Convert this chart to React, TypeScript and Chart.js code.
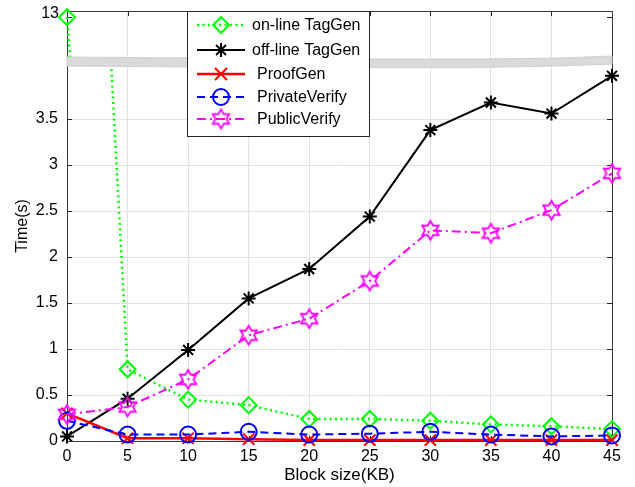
import React, { useEffect, useRef } from 'react';
import { Chart, registerables } from 'chart.js';

Chart.register(...registerables);

// ---- data ----
const blockSizes = [0, 5, 10, 15, 20, 25, 30, 35, 40, 45];
const onlineTagGen = [13, 0.78, 0.45, 0.39, 0.24, 0.24, 0.22, 0.18, 0.16, 0.13];
const offlineTagGen = [0.05, 0.46, 0.99, 1.55, 1.87, 2.44, 3.38, 3.68, 3.56, 3.97];
const proofGen = [0.3, 0.03, 0.03, 0.02, 0.01, 0.01, 0.01, 0.01, 0.01, 0.01];
const privateVerify = [0.22, 0.07, 0.07, 0.1, 0.07, 0.08, 0.1, 0.07, 0.05, 0.06];
const publicVerify = [0.29, 0.37, 0.67, 1.15, 1.33, 1.74, 2.29, 2.26, 2.51, 2.91];
const seriesNames = ['on-line TagGen', 'off-line TagGen', 'ProofGen', 'PrivateVerify', 'PublicVerify'];
const xTickValues = [0, 5, 10, 15, 20, 25, 30, 35, 40, 45];
const yTickValues = [0, 0.5, 1, 1.5, 2, 2.5, 3, 3.5];
const upperTickValues = [13];
const xTitle = 'Block size(KB)';
const yTitle = 'Time(s)';

// axis ranges (lower part and upper part of the broken axis)
const lowerMin = 0;
const lowerMax = 4.675;
const upperMin = 6.16;
const upperMax = 13.1;
const breakValue = 4.12; // value on the lower axis where the break band sits

const FONT = "'Liberation Sans', Arial, Helvetica, sans-serif";
const GREEN = '#00ff00';
const BLACK = '#000000';
const RED = '#ff0000';
const BLUE = '#0000ff';
const MAGENTA = '#ff00ff';

function makeHexagram(color: string, r: number): HTMLCanvasElement {
  const c = document.createElement('canvas');
  const s = Math.ceil(r * 2 + 4);
  c.width = s;
  c.height = s;
  const g = c.getContext('2d')!;
  g.strokeStyle = color;
  g.lineWidth = 1.8;
  g.beginPath();
  for (let i = 0; i < 12; i++) {
    const ang = -Math.PI / 2 + (i * Math.PI) / 6;
    const rr = i % 2 === 0 ? r : r * 0.577;
    const px = s / 2 + rr * Math.cos(ang);
    const py = s / 2 + rr * Math.sin(ang);
    if (i === 0) g.moveTo(px, py);
    else g.lineTo(px, py);
  }
  g.closePath();
  g.stroke();
  return c;
}

function drawMarker(ctx: CanvasRenderingContext2D, kind: string, x: number, y: number, color: string, img?: HTMLCanvasElement) {
  ctx.save();
  ctx.setLineDash([]);
  ctx.strokeStyle = color;
  ctx.lineWidth = 2;
  ctx.beginPath();
  if (kind === 'diamond') {
    const r = 8;
    ctx.moveTo(x, y - r);
    ctx.lineTo(x + r, y);
    ctx.lineTo(x, y + r);
    ctx.lineTo(x - r, y);
    ctx.closePath();
  } else if (kind === 'star') {
    const r = 7;
    for (let i = 0; i < 4; i++) {
      const a = (i * Math.PI) / 4;
      ctx.moveTo(x - r * Math.cos(a), y - r * Math.sin(a));
      ctx.lineTo(x + r * Math.cos(a), y + r * Math.sin(a));
    }
  } else if (kind === 'cross') {
    const r = 6;
    ctx.moveTo(x - r, y - r);
    ctx.lineTo(x + r, y + r);
    ctx.moveTo(x + r, y - r);
    ctx.lineTo(x - r, y + r);
  } else if (kind === 'circle') {
    ctx.arc(x, y, 8, 0, Math.PI * 2);
  }
  ctx.stroke();
  if (kind === 'hex' && img) {
    ctx.drawImage(img, x - img.width / 2, y - img.height / 2);
  }
  ctx.restore();
}

export default function App() {
  const ref = useRef<HTMLCanvasElement>(null);

  useEffect(() => {
    const canvas = ref.current;
    if (!canvas) return;
    const hex = makeHexagram(MAGENTA, 9.5);

    const pts = (arr: number[]) => blockSizes.map((x, i) => ({ x, y: arr[i] }));
    const base = {
      showLine: true,
      clip: false as any,
      fill: false,
      tension: 0,
      backgroundColor: 'rgba(0,0,0,0)',
      pointBackgroundColor: 'rgba(0,0,0,0)',
      pointBorderWidth: 2,
      pointHoverRadius: 0,
    };

    const legendDefs = [
      { name: seriesNames[0], color: GREEN, dash: [2, 3.5], width: 2.5, marker: 'diamond' },
      { name: seriesNames[1], color: BLACK, dash: [], width: 2, marker: 'star' },
      { name: seriesNames[2], color: RED, dash: [], width: 2.5, marker: 'cross' },
      { name: seriesNames[3], color: BLUE, dash: [8, 5], width: 2, marker: 'circle' },
      { name: seriesNames[4], color: MAGENTA, dash: [9, 4, 2, 4], width: 2, marker: 'hex' },
    ];

    const datasets: any[] = [
      {
        ...base, label: seriesNames[0], data: pts(onlineTagGen), yAxisID: 'y', region: 'lower', order: 5,
        borderColor: GREEN, borderWidth: 2.5, borderDash: [2, 3.5], pointStyle: 'rectRot', pointRadius: 8, pointBorderColor: GREEN,
      },
      {
        ...base, label: seriesNames[0] + ' (upper)', data: pts(onlineTagGen), yAxisID: 'yTop', region: 'upper', order: 5,
        borderColor: GREEN, borderWidth: 2.5, borderDash: [2, 3.5], pointStyle: 'rectRot', pointRadius: 8, pointBorderColor: GREEN,
      },
      {
        ...base, label: seriesNames[1], data: pts(offlineTagGen), yAxisID: 'y', region: 'lower', order: 4,
        borderColor: BLACK, borderWidth: 2, pointStyle: 'star', pointRadius: 7, pointBorderColor: BLACK,
      },
      {
        ...base, label: seriesNames[2], data: pts(proofGen), yAxisID: 'y', region: 'lower', order: 3,
        borderColor: RED, borderWidth: 2.5, pointStyle: 'crossRot', pointRadius: 8, pointBorderColor: RED,
      },
      {
        ...base, label: seriesNames[3], data: pts(privateVerify), yAxisID: 'y', region: 'lower', order: 2,
        borderColor: BLUE, borderWidth: 2, borderDash: [8, 5], pointStyle: 'circle', pointRadius: 8, pointBorderColor: BLUE,
      },
      {
        ...base, label: seriesNames[4], data: pts(publicVerify), yAxisID: 'y', region: 'lower', order: 1,
        borderColor: MAGENTA, borderWidth: 2, borderDash: [9, 4, 2, 4], pointStyle: hex, pointRadius: 9, pointBorderColor: MAGENTA,
      },
    ];

    const splitPixel = (chart: any) => chart.scales.y.getPixelForValue(breakValue);

    const decor = {
      id: 'decor',
      beforeDatasetsDraw(chart: any) {
        const { ctx, chartArea: a, scales } = chart;
        ctx.save();
        // inward tick marks
        ctx.strokeStyle = '#262626';
        ctx.lineWidth = 1;
        ctx.beginPath();
        const tl = 5;
        for (const v of xTickValues) {
          const px = Math.round(scales.x.getPixelForValue(v)) + 0.5;
          ctx.moveTo(px, a.bottom);
          ctx.lineTo(px, a.bottom - tl);
          ctx.moveTo(px, a.top);
          ctx.lineTo(px, a.top + tl);
        }
        const yPix = yTickValues.map((v) => scales.y.getPixelForValue(v))
          .concat(upperTickValues.map((v) => scales.yTop.getPixelForValue(v)));
        for (const p of yPix) {
          const py = Math.round(p) + 0.5;
          ctx.moveTo(a.left, py);
          ctx.lineTo(a.left + tl, py);
          ctx.moveTo(a.right, py);
          ctx.lineTo(a.right - tl, py);
        }
        ctx.stroke();
        // frame
        ctx.strokeStyle = '#3a3a3a';
        ctx.strokeRect(Math.round(a.left) + 0.5, Math.round(a.top) + 0.5, Math.round(a.right - a.left), Math.round(a.bottom - a.top));
        ctx.restore();
      },
      beforeDatasetDraw(chart: any, args: any) {
        const ds = chart.data.datasets[args.index];
        const { ctx } = chart;
        const sp = splitPixel(chart);
        ctx.save();
        ctx.beginPath();
        if (ds.region === 'upper') ctx.rect(0, 0, chart.width, sp);
        else ctx.rect(0, sp, chart.width, chart.height - sp);
        ctx.clip();
      },
      afterDatasetDraw(chart: any) {
        chart.ctx.restore();
      },
      afterDatasetsDraw(chart: any) {
        const { ctx, chartArea: a, scales } = chart;
        const sp = splitPixel(chart);
        const w = a.right - a.left;
        // break band (slightly wavy)
        const topOff = [[0, -5], [0.25, -4], [0.5, -3], [0.75, -3], [0.9, -4], [1, -6]];
        const botOff = [[1, 2], [0.9, 4], [0.75, 5.5], [0.5, 5.5], [0.25, 5], [0, 4]];
        ctx.save();
        ctx.fillStyle = '#dadada';
        ctx.strokeStyle = '#cfcfcf';
        ctx.lineWidth = 1;
        ctx.beginPath();
        topOff.forEach(([f, o], i) => {
          const px = a.left + f * w;
          if (i === 0) ctx.moveTo(px, sp + o);
          else ctx.lineTo(px, sp + o);
        });
        botOff.forEach(([f, o]) => ctx.lineTo(a.left + f * w, sp + o));
        ctx.closePath();
        ctx.fill();
        ctx.stroke();
        ctx.restore();

        // upper tick label
        ctx.save();
        ctx.fillStyle = '#000';
        ctx.font = `16px ${FONT}`;
        ctx.textAlign = 'right';
        ctx.textBaseline = 'middle';
        for (const v of upperTickValues) {
          ctx.fillText(String(v), a.left - 8, scales.yTop.getPixelForValue(v) - 4);
        }
        // axis titles
        ctx.textAlign = 'center';
        ctx.font = `17px ${FONT}`;
        ctx.fillText(xTitle, (a.left + a.right) / 2, a.bottom + 34);
        ctx.font = `16px ${FONT}`;
        ctx.translate(23, (a.top + a.bottom) / 2);
        ctx.rotate(-Math.PI / 2);
        ctx.fillText(yTitle, 0, 0);
        ctx.restore();
      },
      afterDraw(chart: any) {
        const { ctx, chartArea: a } = chart;
        // legend box
        const bx = 187, by = a.top, bw = 182, bh = 125;
        ctx.save();
        ctx.fillStyle = '#ffffff';
        ctx.fillRect(bx, by, bw, bh);
        ctx.strokeStyle = '#262626';
        ctx.lineWidth = 1;
        ctx.strokeRect(bx + 0.5, by + 0.5, bw, bh);
        const rowY = [25, 50, 74, 97, 119];
        const textX = [252, 252, 257, 257, 257];
        legendDefs.forEach((d, i) => {
          const y = rowY[i];
          ctx.save();
          ctx.strokeStyle = d.color;
          ctx.lineWidth = d.width;
          ctx.setLineDash(d.dash);
          ctx.beginPath();
          ctx.moveTo(197, y);
          ctx.lineTo(245, y);
          ctx.stroke();
          ctx.restore();
          drawMarker(ctx, d.marker, 221, y, d.color, hex);
          ctx.fillStyle = '#000';
          ctx.font = `16px ${FONT}`;
          ctx.textAlign = 'left';
          ctx.textBaseline = 'middle';
          ctx.fillText(d.name, textX[i], y + 1);
        });
        ctx.restore();
      },
    };

    const tickFont = { size: 16, family: FONT };
    const chart = new Chart(canvas, {
      type: 'line',
      data: { datasets },
      options: {
        animation: false,
        responsive: false,
        maintainAspectRatio: false,
        events: [],
        layout: { padding: { top: 10, right: 23, left: 0, bottom: 0 } },
        plugins: { legend: { display: false }, tooltip: { enabled: false } },
        scales: {
          x: {
            type: 'linear',
            min: 0,
            max: 45,
            afterBuildTicks: (s: any) => { s.ticks = xTickValues.map((v) => ({ value: v })); },
            afterFit: (s: any) => { s.height = 46; s.paddingLeft = 0; s.paddingRight = 0; s.paddingTop = 0; s.paddingBottom = 0; },
            ticks: { font: tickFont, color: '#000', padding: 6, maxRotation: 0, autoSkip: false, callback: (v: any) => String(v) },
            grid: { color: '#e2e2e2', drawTicks: false, lineWidth: 1 },
            border: { display: false },
          },
          y: {
            type: 'linear',
            min: lowerMin,
            max: lowerMax,
            afterBuildTicks: (s: any) => { s.ticks = yTickValues.map((v) => ({ value: v })); },
            afterFit: (s: any) => { s.width = 67; s.paddingLeft = 0; s.paddingRight = 0; s.paddingTop = 0; s.paddingBottom = 0; },
            ticks: { font: tickFont, color: '#000', padding: 9, autoSkip: false, callback: (v: any) => String(v) },
            grid: { color: '#e2e2e2', drawTicks: false, lineWidth: 1 },
            border: { display: false },
          },
          yTop: {
            type: 'linear',
            display: false,
            min: upperMin,
            max: upperMax,
          },
        },
      },
      plugins: [decor],
    } as any);

    return () => chart.destroy();
  }, []);

  return (
    <div style={{ position: 'fixed', left: 0, top: 0, width: 635, height: 487, background: '#fff' }}>
      <canvas ref={ref} width={635} height={487} style={{ width: 635, height: 487, display: 'block' }} />
    </div>
  );
}
